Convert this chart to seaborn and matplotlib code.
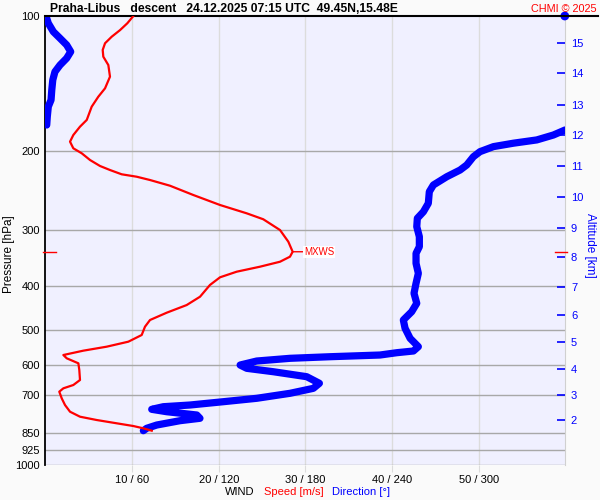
import matplotlib
matplotlib.use("Agg")
import matplotlib.pyplot as plt
import matplotlib.ticker as mticker
import seaborn as sns
import numpy as np
import pandas as pd

plt.rcParams['font.family'] = ['Liberation Sans', 'DejaVu Sans']

# ---------------- data ----------------
title_text = "Praha-Libus   descent   24.12.2025 07:15 UTC  49.45N,15.48E"
credit_text = "CHMI \u00a9 2025"

# wind speed profile (m/s) vs pressure (hPa)
speed_p = [100.0, 103.8, 107.5, 111.2, 115.0, 119.0, 123.2, 128.6, 136.5, 144.9,
           151.3, 159.2, 170.4, 176.4, 184.1, 190.5, 197.1, 202.2, 209.3, 215.8,
           220.3, 225.2, 228.0, 231.9, 238.8, 250.4, 263.6, 275.1, 283.6, 299.7,
           318.2, 335.0, 343.6, 352.6, 361.7, 371.1, 381.9, 397.2, 421.9, 440.3,
           457.9, 475.4, 492.0, 513.4, 531.3, 545.1, 556.4, 568.9, 578.6, 593.6,
           614.3, 646.7, 663.5, 674.9, 686.6, 710.3, 735.2, 760.9, 780.6, 794.0,
           807.5, 818.8, 828.5, 838.7]
speed_v = [10.15, 9.45, 8.61, 7.65, 6.88, 6.61, 6.68, 7.26, 7.45, 6.88,
           6.10, 5.34, 4.77, 3.99, 3.22, 2.84, 3.22, 4.19, 5.15, 6.30,
           7.45, 8.80, 10.53, 12.07, 14.38, 17.06, 20.15, 23.23, 25.14, 27.07,
           28.03, 28.53, 28.22, 27.07, 24.76, 22.07, 20.15, 18.99, 17.84, 16.30,
           14.00, 12.07, 11.49, 11.11, 9.57, 7.07, 4.37, 2.07, 2.46, 3.80,
           3.91, 3.99, 3.22, 2.07, 1.60, 1.88, 2.26, 2.84, 3.99, 5.92,
           8.23, 10.14, 11.30, 12.27]

# wind direction profile (deg) vs pressure (hPa)
dir_p = [100.0, 100.0, 103.8, 108.4, 112.1, 116.0, 120.1, 124.2, 128.6, 133.1,
         138.8, 146.2, 153.8, 159.2, 167.6, 174.9,
         179.4, 184.1, 188.8, 192.0, 195.4, 200.5, 205.8, 214.7, 220.3, 228.0,
         237.9, 246.2, 261.3, 272.9, 282.2, 294.6, 310.1, 326.4, 337.8, 355.5,
         374.2, 393.8, 414.6, 436.4, 455.6, 475.4, 496.0, 522.3, 545.1, 557.3,
         562.2, 568.9, 573.9, 578.6, 586.7, 598.9, 609.1, 619.8, 635.8, 657.7,
         674.9, 692.3, 710.3, 722.8, 735.2, 741.6, 751.6, 760.9, 773.8, 787.0,
         796.7, 814.6, 828.5, 838.7]
dir_v = [359.6, 0.4, 2.0, 5.5, 10.1, 14.7, 17.5, 14.7, 10.1, 6.6,
         5.1, 4.4, 3.9, 2.0, 1.3, 0.9,
         359.8, 351.7, 340.2, 324.0, 310.2, 300.9, 296.3, 291.7, 287.1, 277.9,
         268.6, 265.8, 265.1, 261.7, 257.5, 257.1, 258.9, 258.9, 256.6, 256.6,
         258.2, 256.6, 255.2, 257.1, 253.6, 247.8, 249.0, 252.5, 258.2, 254.8,
         243.3, 231.7, 197.1, 169.4, 146.3, 134.8, 139.4, 157.8, 180.9, 189.7,
         185.5, 169.4, 146.3, 123.2, 100.1, 81.6, 73.6, 84.0, 104.8, 107.0,
         93.2, 77.1, 70.1, 67.8]

pressure_ticks = [100, 200, 300, 400, 500, 600, 700, 850, 925, 1000]
pressure_labels = ["100", "200", "300", "400", "500", "600", "700", "850", "925", "1000"]

wind_ticks_dir = [60, 120, 180, 240, 300]
wind_labels = ["10 / 60", "20 / 120", "30 / 180", "40 / 240", "50 / 300"]

alt_km = [2, 3, 4, 5, 6, 7, 8, 9, 10, 11, 12, 13, 14, 15]
alt_hpa = [794, 697, 612, 533, 462.6, 400.7, 344.6, 296, 252.6, 215.5, 184, 157.8, 134, 114.7]

# ---------------- frames ----------------
df_speed = pd.DataFrame({"p": speed_p, "speed": speed_v})
df_dir = pd.DataFrame({"p": dir_p, "dir": dir_v})
jump = np.abs(np.diff(df_dir["dir"].values, prepend=df_dir["dir"].values[0])) > 180
df_dir["seg"] = np.cumsum(jump)
seg_sizes = df_dir.groupby("seg")["dir"].transform("size")

RED = "#FF0000"
BLUE = "#0000FF"

fig = plt.figure(figsize=(6, 5), dpi=100, facecolor="#FAFAFA")
ax = fig.add_axes([0.0757, 0.07, 0.8666, 0.898])
ax.set_facecolor("#F0F0FF")

# direction on main axis (0-360)
sns.lineplot(data=df_dir[seg_sizes > 1], x="dir", y="p", units="seg", estimator=None,
             sort=False, color=BLUE, lw=5.2, ax=ax, solid_capstyle="round", zorder=3)
sns.scatterplot(data=df_dir[seg_sizes == 1], x="dir", y="p", color=BLUE, s=40,
                edgecolor="none", ax=ax, zorder=3, clip_on=False)

ax.set_yscale("log")
ax.set_ylim(1000, 100)
ax.set_xlim(0, 360)
ax.yaxis.set_major_locator(mticker.FixedLocator(pressure_ticks))
ax.yaxis.set_major_formatter(mticker.FixedFormatter(pressure_labels))
ax.yaxis.set_minor_locator(mticker.NullLocator())
ax.set_xticks(wind_ticks_dir)
ax.set_xticklabels(wind_labels)
ax.tick_params(axis="x", length=5, color="#DCDCDC", labelsize=8, pad=2)
ax.tick_params(axis="y", length=0, labelsize=8, pad=4)
ax.set_xlabel("")
ax.set_ylabel("Pressure [hPa]", fontsize=8.5)
ax.yaxis.set_label_coords(-0.058, 0.47)

for p in pressure_ticks[1:]:
    ax.axhline(p, color="#A8A8A8", lw=1.0, zorder=1)
for d in wind_ticks_dir:
    ax.axvline(d, color="#DCDCDC", lw=1.0, zorder=0.9)

ax.spines["bottom"].set_visible(False)
ax.spines["left"].set_color("black")
ax.spines["left"].set_linewidth(1.3)
ax.spines["right"].set_color("#D0D0D0")
ax.spines["top"].set_visible(False)
ax.axhline(100, xmin=0.0, xmax=1.063, color="black", lw=1.5, clip_on=False, zorder=5)

# speed on twin x axis (0-60)
axs = ax.twiny()
sns.lineplot(data=df_speed, x="speed", y="p", estimator=None, sort=False,
             color=RED, lw=1.6, ax=axs, zorder=4)
axs.set_xlim(0, 60)
axs.set_xticks([])
axs.set_xlabel("")
axs.set_ylabel("")
for s in axs.spines.values():
    s.set_visible(False)

imax = int(np.argmax(speed_v))
axs.annotate("MXWS", xy=(speed_v[imax], speed_p[imax]), xytext=(8, 0),
             textcoords="offset points", color=RED, fontsize=7, va="center",
             bbox=dict(boxstyle="square,pad=0.1", fc="white", ec="none"),
             arrowprops=dict(arrowstyle="-", color=RED, lw=1, shrinkA=0, shrinkB=0))
ax.axhline(speed_p[imax], xmin=-0.005, xmax=0.02, color=RED, lw=1, clip_on=False, zorder=5)
ax.axhline(speed_p[imax], xmin=0.98, xmax=1.004, color=RED, lw=1, clip_on=False, zorder=5)

# altitude axis
axa = ax.twinx()
axa.set_yscale("log")
axa.set_ylim(1000, 100)
axa.yaxis.set_major_locator(mticker.FixedLocator(alt_hpa))
axa.yaxis.set_major_formatter(mticker.FixedFormatter([str(k) for k in alt_km]))
axa.yaxis.set_minor_locator(mticker.NullLocator())
axa.tick_params(axis="y", direction="in", length=6, width=1.2, color=BLUE,
                labelcolor=BLUE, labelsize=8, pad=4)
for s in axa.spines.values():
    s.set_visible(False)
axa.set_ylabel("Altitude [km]", color=BLUE, fontsize=8.5, rotation=270, va="bottom")
axa.yaxis.set_label_coords(1.036, 0.49)

# header and footer texts
fig.text(0.083, 0.983, title_text, fontsize=8.7, fontweight="bold", va="center", ha="left")
fig.text(0.994, 0.983, credit_text, fontsize=7.8, color=RED, va="center", ha="right")
fig.text(0.375, 0.016, "WIND", fontsize=8, color="black", va="center", ha="left")
fig.text(0.440, 0.016, "Speed [m/s]", fontsize=8, color=RED, va="center", ha="left")
fig.text(0.553, 0.016, "Direction [\u00b0]", fontsize=8, color=BLUE, va="center", ha="left")

fig.savefig("out.png", dpi=100, facecolor=fig.get_facecolor())
